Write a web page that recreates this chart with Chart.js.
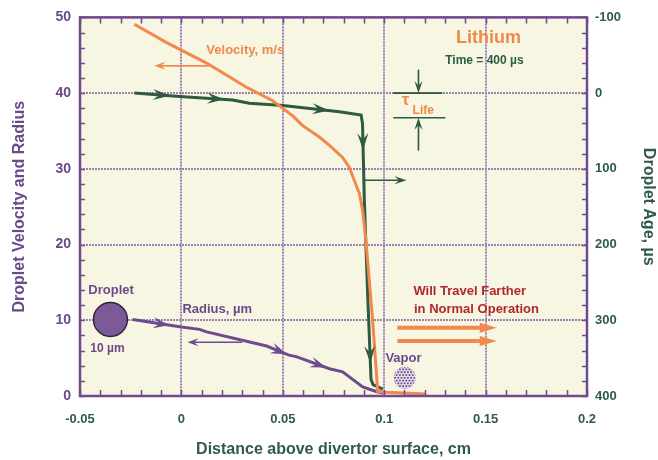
<!DOCTYPE html>
<html>
<head>
<meta charset="utf-8">
<script src="https://cdn.jsdelivr.net/npm/chart.js@4"></script>
<style>
html,body{margin:0;padding:0;background:#ffffff;}
#wrap{width:658px;height:460px;}
</style>
</head>
<body>
<div id="wrap"><canvas id="c" width="658" height="460"></canvas></div>
<script>
// ---- data ----
const velocityX = [-0.0232, -0.0075, 0.0122, 0.0319, 0.045, 0.0549, 0.0598, 0.068, 0.073, 0.0795, 0.0828, 0.0878, 0.0894, 0.0911, 0.0943, 0.0968, 0.1009, 0.1207];
const velocityY = [49.1, 46.7, 44.0, 40.8, 39.0, 37.0, 35.7, 34.2, 33.1, 31.5, 30.2, 26.7, 24.5, 20.2, 10.0, 0.6, 0.5, 0.26];

const ageX = [-0.0232, -0.0026, 0.0253, 0.0335, 0.05, 0.0779, 0.0886, 0.0893, 0.0902, 0.0919, 0.0935, 0.0945, 0.0993];
const ageY = [0, 4, 9, 13.5, 16.5, 24.5, 29, 40, 141, 270, 378, 385, 391];

const radiusX = [-0.024, 0, 0.009, 0.012, 0.042, 0.053, 0.0566, 0.073, 0.0795, 0.0894, 0.096, 0.0995];
const radiusY = [10.1, 9.1, 8.8, 8.5, 6.6, 5.4, 5.2, 3.6, 3.2, 1.2, 0.6, 0.4];

const xTickLabels = ['-0.05', '0', '0.05', '0.1', '0.15', '0.2'];
const leftTickLabels = ['0', '10', '20', '30', '40', '50'];
const rightTickValues = [-100, 0, 100, 200, 300, 400];
const rightTickLabels = ['-100', '0', '100', '200', '300', '400'];

// direction markers: [segment index, fraction along segment]
const ageMarks = [[0, 0.85], [1, 0.85], [4, 0.82], [7, 0.35], [9, 0.8]];
const radiusMarks = [[0, 0.75], [4, 0.9], [6, 0.9]];

// ---- styling ----
const ORANGE = '#f0894b';
const GREEN = '#2d5a40';
const PURPLE = '#6f4a8e';
const PURPLE_TXT = '#6b4a8a';
const GREEN_TXT = '#2e5c46';
const RED = '#b2272d';
const FONT = "'Liberation Sans', Arial, sans-serif";

function pts(xs, ys) { return xs.map((x, i) => ({x: x, y: ys[i]})); }

function barb(ctx, x, y, ang, L, W, color) {
  ctx.save();
  ctx.translate(x, y);
  ctx.rotate(ang);
  ctx.beginPath();
  ctx.moveTo(0, 0);
  ctx.lineTo(-L, W / 2);
  ctx.lineTo(-0.62 * L, 0);
  ctx.lineTo(-L, -W / 2);
  ctx.closePath();
  ctx.fillStyle = color;
  ctx.fill();
  ctx.restore();
}
function tri(ctx, x, y, ang, L, W, color) {
  ctx.save();
  ctx.translate(x, y);
  ctx.rotate(ang);
  ctx.beginPath();
  ctx.moveTo(0, 0);
  ctx.lineTo(-L, W / 2);
  ctx.lineTo(-L, -W / 2);
  ctx.closePath();
  ctx.fillStyle = color;
  ctx.fill();
  ctx.restore();
}
function arrow(ctx, x0, y0, x1, y1, color, lw, L, W, fat) {
  const ang = Math.atan2(y1 - y0, x1 - x0);
  ctx.save();
  ctx.strokeStyle = color;
  ctx.lineWidth = lw;
  ctx.beginPath();
  ctx.moveTo(x0, y0);
  ctx.lineTo(x1 - Math.cos(ang) * L * 0.6, y1 - Math.sin(ang) * L * 0.6);
  ctx.stroke();
  ctx.restore();
  if (fat) tri(ctx, x1, y1, ang, L, W, color); else barb(ctx, x1, y1, ang, L, W, color);
}
function text(ctx, s, x, y, font, color, align) {
  ctx.save();
  ctx.font = font;
  ctx.fillStyle = color;
  ctx.textAlign = align || 'left';
  ctx.textBaseline = 'middle';
  ctx.fillText(s, x, y);
  ctx.restore();
}

const deco = {
  id: 'deco',
  beforeDraw(chart) {
    const a = chart.chartArea, ctx = chart.ctx;
    ctx.save();
    ctx.fillStyle = '#f6f6e2';
    ctx.fillRect(a.left, a.top, a.right - a.left, a.bottom - a.top);
    ctx.restore();
  },
  afterDatasetsDraw(chart) {
    const ctx = chart.ctx;
    const sx = chart.scales.x, sy = chart.scales.y;
    const X = v => sx.getPixelForValue(v), Y = v => sy.getPixelForValue(v);
    // direction markers along curves
    const mark = (dsIndex, list, color, L, W) => {
      const meta = chart.getDatasetMeta(dsIndex);
      list.forEach(([s, t]) => {
        const p0 = meta.data[s], p1 = meta.data[s + 1];
        const x = p0.x + (p1.x - p0.x) * t, y = p0.y + (p1.y - p0.y) * t;
        barb(ctx, x, y, Math.atan2(p1.y - p0.y, p1.x - p0.x), L, W, color);
      });
    };
    mark(1, ageMarks, GREEN, 17, 11);
    mark(0, radiusMarks, PURPLE, 16, 11);

    // Velocity label + arrow
    text(ctx, 'Velocity, m/s', X(0.0123), Y(45.6), 'bold 13px ' + FONT, ORANGE, 'left');
    arrow(ctx, X(0.0138), Y(43.6), X(-0.0133), Y(43.6), ORANGE, 1.6, 11, 8, false);

    // Lithium / time
    text(ctx, 'Lithium', X(0.1514), Y(47.3), 'bold 18px ' + FONT, ORANGE, 'center');
    text(ctx, 'Time = 400 µs', X(0.1494), Y(44.3), 'bold 12px ' + FONT, GREEN_TXT, 'center');

    // tau life indicator
    ctx.save();
    ctx.strokeStyle = GREEN; ctx.lineWidth = 1.6;
    ctx.beginPath();
    ctx.moveTo(X(0.1045), Y(40)); ctx.lineTo(X(0.1287), Y(40));
    ctx.moveTo(X(0.1045), Y(36.75)); ctx.lineTo(X(0.1302), Y(36.75));
    ctx.stroke();
    ctx.restore();
    arrow(ctx, X(0.1169), Y(43.1), X(0.1169), Y(40), GREEN, 1.6, 12, 8, false);
    arrow(ctx, X(0.1169), Y(32.4), X(0.1169), Y(36.75), GREEN, 1.6, 12, 8, false);
    text(ctx, 'τ', X(0.1105), Y(39.0), 'bold 17px ' + FONT, ORANGE, 'center');
    text(ctx, 'Life', X(0.114), Y(37.7), 'bold 12px ' + FONT, ORANGE, 'left');

    // age right arrow
    arrow(ctx, X(0.0897), Y(28.5), X(0.111), Y(28.5), GREEN, 1.6, 12, 8, false);

    // droplet
    text(ctx, 'Droplet', X(-0.0459), Y(14.0), 'bold 13px ' + FONT, PURPLE_TXT, 'left');
    ctx.save();
    ctx.beginPath();
    ctx.arc(X(-0.035), Y(10.1), 17, 0, Math.PI * 2);
    ctx.fillStyle = '#7c5a98';
    ctx.fill();
    ctx.lineWidth = 1.4; ctx.strokeStyle = '#2e2238';
    ctx.stroke();
    ctx.restore();
    text(ctx, '10 µm', X(-0.0449), Y(6.2), 'bold 12px ' + FONT, PURPLE_TXT, 'left');

    // radius label + arrow
    text(ctx, 'Radius, µm', X(0.0005), Y(11.5), 'bold 13px ' + FONT, PURPLE_TXT, 'left');
    arrow(ctx, X(0.030), Y(7.1), X(0.003), Y(7.1), PURPLE, 1.6, 11, 8, false);

    // will travel farther
    text(ctx, 'Will Travel Farther', X(0.1144), Y(13.75), 'bold 13px ' + FONT, RED, 'left');
    text(ctx, 'in Normal Operation', X(0.1147), Y(11.5), 'bold 13px ' + FONT, RED, 'left');
    arrow(ctx, X(0.1065), Y(9.0), X(0.1555), Y(9.0), ORANGE, 4, 17, 10, true);
    arrow(ctx, X(0.1065), Y(7.25), X(0.1555), Y(7.25), ORANGE, 4, 17, 10, true);

    // vapor
    text(ctx, 'Vapor', X(0.1006), Y(5.0), 'bold 13px ' + FONT, PURPLE_TXT, 'left');
    const vx = X(0.1101), vy = Y(2.4), vr = 11;
    ctx.save();
    ctx.beginPath();
    ctx.arc(vx, vy, vr, 0, Math.PI * 2);
    ctx.fillStyle = '#f1ecf3';
    ctx.fill();
    ctx.clip();
    ctx.fillStyle = '#7a5a97';
    for (let r = -4; r <= 4; r++) {
      for (let c = -4; c <= 4; c++) {
        const px = vx + c * 3.2 + (r % 2 ? 1.6 : 0), py = vy + r * 2.8;
        ctx.beginPath();
        ctx.arc(px, py, 1.15, 0, Math.PI * 2);
        ctx.fill();
      }
    }
    ctx.restore();
  },
  afterDraw(chart) {
    const ctx = chart.ctx, a = chart.chartArea;
    const sx = chart.scales.x, sy = chart.scales.y, sy2 = chart.scales.y2;
    ctx.save();
    ctx.strokeStyle = PURPLE;
    ctx.lineWidth = 1.5;
    ctx.beginPath();
    for (let i = 0; i <= 25; i++) {
      const x = Math.round(sx.getPixelForValue(-0.05 + i * 0.01)) + 0.5;
      ctx.moveTo(x, a.bottom); ctx.lineTo(x, a.bottom - 6);
      ctx.moveTo(x, a.top); ctx.lineTo(x, a.top + 6);
    }
    for (let v = 0; v <= 50; v += 2) {
      const y = Math.round(sy.getPixelForValue(v)) + 0.5;
      ctx.moveTo(a.left, y); ctx.lineTo(a.left + 5, y);
    }
    for (let v = -100; v <= 400; v += 20) {
      const y = Math.round(sy2.getPixelForValue(v)) + 0.5;
      ctx.moveTo(a.right, y); ctx.lineTo(a.right - 5, y);
    }
    ctx.stroke();
    ctx.lineWidth = 2.5;
    ctx.strokeRect(a.left, a.top, a.right - a.left, a.bottom - a.top);
    ctx.restore();
  }
};

Chart.defaults.font.family = FONT;

new Chart(document.getElementById('c'), {
  type: 'scatter',
  data: {
    datasets: [
      {label: 'Radius, µm', data: pts(radiusX, radiusY), yAxisID: 'y', showLine: true,
       borderColor: PURPLE, borderWidth: 3, pointRadius: 0, order: 3, tension: 0},
      {label: 'Droplet Age, µs', data: pts(ageX, ageY), yAxisID: 'y2', showLine: true,
       borderColor: GREEN, borderWidth: 3, pointRadius: 0, order: 2, tension: 0},
      {label: 'Velocity, m/s', data: pts(velocityX, velocityY), yAxisID: 'y', showLine: true,
       borderColor: ORANGE, borderWidth: 3, pointRadius: 0, order: 1, tension: 0}
    ]
  },
  options: {
    responsive: false,
    animation: false,
    devicePixelRatio: 1,
    layout: {padding: {top: 16, left: 0, right: 0, bottom: 0}},
    plugins: {legend: {display: false}, tooltip: {enabled: false}},
    scales: {
      x: {
        type: 'linear', min: -0.05, max: 0.2,
        afterFit: s => { s.height = 64; },
        ticks: {stepSize: 0.05, padding: 16, color: GREEN_TXT, font: {size: 13, weight: 'bold'},
                callback: (v, i) => xTickLabels[i]},
        grid: {color: '#9b80b4', lineWidth: 2, drawTicks: false},
        border: {display: false, dash: [2, 1]},
        title: {display: true, text: 'Distance above divertor surface, cm', color: GREEN_TXT,
                font: {size: 16, weight: 'bold'}, padding: {top: 0, bottom: 1}}
      },
      y: {
        type: 'linear', position: 'left', min: 0, max: 50,
        afterFit: s => { s.width = 80; },
        ticks: {stepSize: 10, padding: 9, color: PURPLE_TXT, font: {size: 14, weight: 'bold'},
                callback: (v, i) => leftTickLabels[i]},
        grid: {color: '#9b80b4', lineWidth: 2, drawTicks: false},
        border: {display: false, dash: [2, 1]},
        title: {display: true, text: 'Droplet Velocity and Radius', color: PURPLE_TXT,
                font: {size: 16, weight: 'bold'}, padding: {top: 10, bottom: 0}}
      },
      y2: {
        type: 'linear', position: 'right', min: -100, max: 400, reverse: true,
        afterFit: s => { s.width = 71; },
        ticks: {stepSize: 100, padding: 8, color: GREEN_TXT, font: {size: 13, weight: 'bold'},
                callback: v => rightTickLabels[rightTickValues.indexOf(Math.round(v))]},
        grid: {drawOnChartArea: false, drawTicks: false},
        border: {display: false},
        title: {display: true, text: 'Droplet Age, µs', color: GREEN_TXT,
                font: {size: 16, weight: 'bold'}, padding: {top: 0, bottom: 0}}
      }
    }
  },
  plugins: [deco]
});
</script>
</body>
</html>
